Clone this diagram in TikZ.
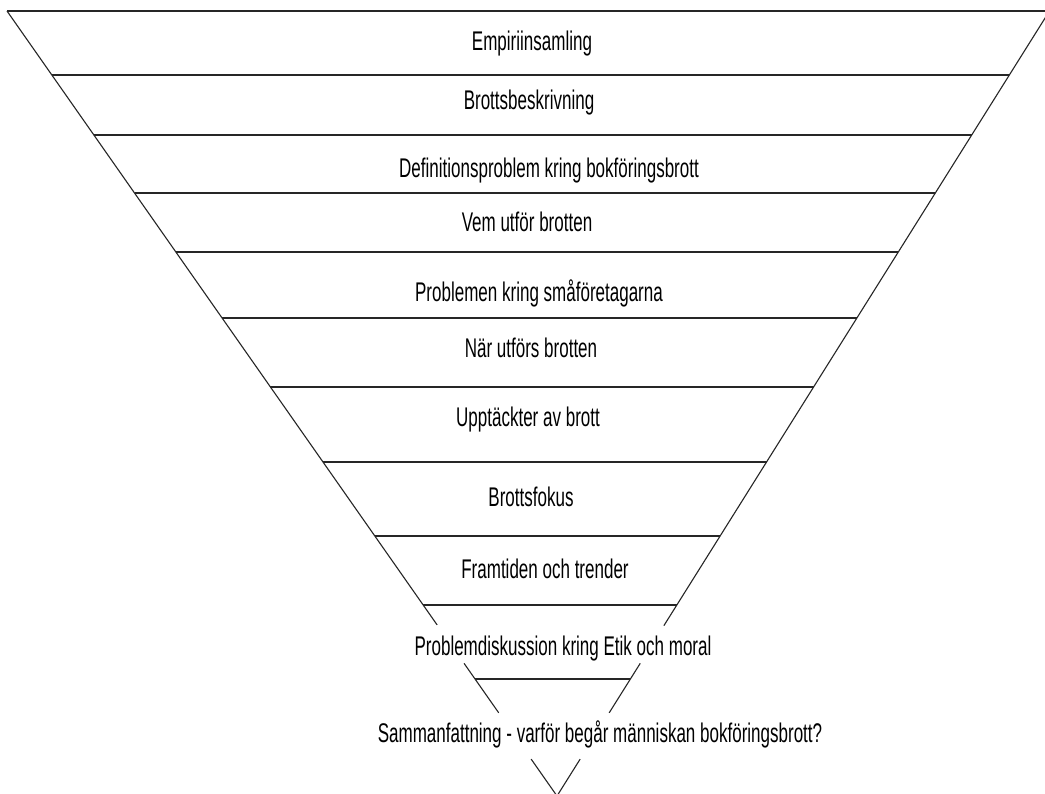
\documentclass[tikz,border=0pt]{standalone}
\usepackage{fontspec}
\setmainfont[FakeStretch=0.63]{Liberation Sans}
\usetikzlibrary{calc}
\tikzset{
  lbl/.style={font=\fontsize{27}{30}\selectfont, inner sep=0pt, anchor=base, text=black},
  rule/.style={line width=1.3pt, draw=black!85},
  side/.style={line width=1.1pt, draw=black!85}
}
\begin{document}
\begin{tikzpicture}[x=1pt,y=-1pt]
\useasboundingbox (0,0) rectangle (1045,794);
\fill[white] (0,0) rectangle (1045,794);
\clip (0,0) rectangle (1045,794);
\coordinate (TL) at (7,11);
\coordinate (TR) at (1049.5,11);
\coordinate (AP) at (557,796);
% top edge
\draw[rule] (TL) -- (TR);
% side edges, broken where the lowest labels sit
\draw[side] (TL) -- ($(TL)!0.782!(AP)$);
\draw[side] ($(TL)!0.831!(AP)$) -- ($(TL)!0.894!(AP)$);
\draw[side] ($(TL)!0.953!(AP)$) -- (AP);
\draw[side] (TR) -- ($(TR)!0.783!(AP)$);
\draw[side] ($(TR)!0.831!(AP)$) -- ($(TR)!0.894!(AP)$);
\draw[side] ($(TR)!0.953!(AP)$) -- (AP);
% horizontal dividers
\foreach \yy in {75,135,193,252,318,387,462,536,605,679} {
  \pgfmathsetmacro\tt{(\yy-11)/785}
  \draw[rule] ($(TL)!\tt!(AP)$) -- ($(TR)!\tt!(AP)$);
}
% labels
\node[lbl] (l1) at (532,51) {Empiriinsamling};
\node[lbl] (l2) at (529,110) {Brottsbeskrivning};
\node[lbl] (l3) at (549,178) {Definitionsproblem kring bokföringsbrott};
\node[lbl] (l4) at (527,232) {Vem utför brotten};
\node[lbl] (l5) at (539,302) {Problemen kring småföretagarna};
\node[lbl] (l6) at (531,358) {När utförs brotten};
\node[lbl] (l7) at (528,427) {Upptäckter av brott};
\node[lbl] (l8) at (531,506) {Brottsfokus};
\node[lbl] (l9) at (545,578) {Framtiden och trender};
\node[lbl] (l10) at (563,655) {Problemdiskussion kring Etik och moral};
\node[lbl] (l11) at (600,742) {Sammanfattning - varför begår människan bokföringsbrott?};
\end{tikzpicture}
\end{document}
